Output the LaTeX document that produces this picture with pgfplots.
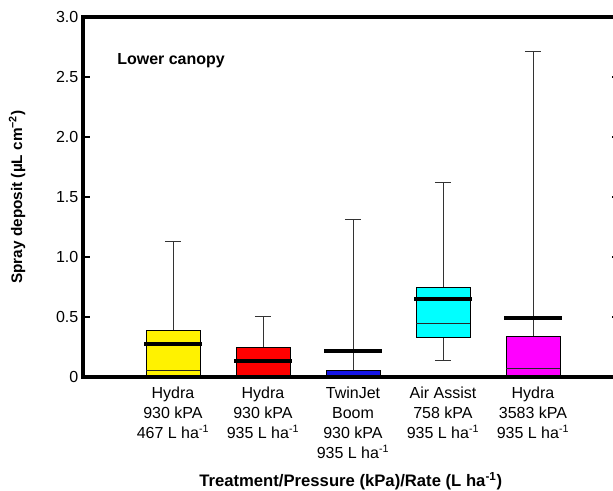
\documentclass[border=0pt]{standalone}
\usepackage{pgfplots}
\pgfplotsset{compat=1.18}
\usepgfplotslibrary{statistics}
\usepackage{fontspec}
\setmainfont{Liberation Sans}
\definecolor{cyanbox}{RGB}{0,255,255}
\definecolor{magbox}{RGB}{255,0,255}
\definecolor{bluebox}{RGB}{20,20,230}
\begin{document}
\begin{tikzpicture}
\path[use as bounding box] (-62.25pt,-85.5pt) rectangle (397.5pt,282.75pt);
\clip (-62.25pt,-85.5pt) rectangle (397.5pt,282.75pt);
\begin{axis}[
  at={(0,0)}, anchor=south west, scale only axis,
  width=401.6pt, height=270pt,
  xmin=0, xmax=5.95, ymin=0, ymax=3,
  axis on top=true,
  axis line style={line width=2.6pt},
  boxplot/draw direction=y,
  boxplot/every whisker/.style={draw=black!80, fill=none, line width=0.6pt},
  boxplot/every median/.style={draw=black!85, fill=none, line width=0.7pt},
  xtick={1,2,3,4,5},
  xticklabels={
    {Hydra\\930 kPA\\467 L ha\textsuperscript{-1}},
    {Hydra\\930 kPA\\935 L ha\textsuperscript{-1}},
    {TwinJet\\Boom\\930 kPA\\935 L ha\textsuperscript{-1}},
    {Air Assist\\758 kPA\\935 L ha\textsuperscript{-1}},
    {Hydra\\3583 kPA\\935 L ha\textsuperscript{-1}}},
  xticklabel style={align=center, font=\fontsize{12}{15}\selectfont, yshift=-4pt},
  x tick style={draw=none},
  ytick={0,0.5,1,1.5,2,2.5,3},
  yticklabels={0,0.5,1.0,1.5,2.0,2.5,3.0},
  yticklabel style={font=\fontsize{12}{14}\selectfont},
  /pgf/number format/assume math mode=true,
  y tick style={line width=2pt, black},
  tick align=inside,
  major tick length=5pt,
  ylabel={\textbf{Spray deposit (µL cm\textsuperscript{−2})}},
  ylabel style={at={(axis description cs:-0.123,0.5)}, anchor=center, font=\fontsize{11.5}{13}\selectfont},
  xlabel={\textbf{Treatment/Pressure (kPa)/Rate (L ha\textsuperscript{-1})}},
  xlabel style={at={(axis description cs:0.5,-0.289)}, anchor=center, font=\fontsize{12.5}{14}\selectfont},
]
\addplot[color=black, boxplot prepared={lower whisker=0, lower quartile=0, median=0.058, upper quartile=0.39, upper whisker=1.13, draw position=1, box extend=0.6, whisker extend=0.18, every box/.style={draw=black, fill=yellow, line width=0.6pt}}, line width=0.6pt] coordinates {};
\addplot[color=black, boxplot prepared={lower whisker=0, lower quartile=0, median=0, upper quartile=0.245, upper whisker=0.505, draw position=2, box extend=0.6, whisker extend=0.18, every box/.style={draw=black, fill=red, line width=0.6pt}}, line width=0.6pt] coordinates {};
\addplot[color=black, boxplot prepared={lower whisker=0, lower quartile=0, median=0, upper quartile=0.058, upper whisker=1.317, draw position=3, box extend=0.6, whisker extend=0.18, every box/.style={draw=black, fill=bluebox, line width=0.6pt}}, line width=0.6pt] coordinates {};
\addplot[color=black, boxplot prepared={lower whisker=0.139, lower quartile=0.328, median=0.447, upper quartile=0.747, upper whisker=1.623, draw position=4, box extend=0.6, whisker extend=0.18, every box/.style={draw=black, fill=cyanbox, line width=0.6pt}}, line width=0.6pt] coordinates {};
\addplot[color=black, boxplot prepared={lower whisker=0, lower quartile=0, median=0.075, upper quartile=0.342, upper whisker=2.71, draw position=5, box extend=0.6, whisker extend=0.18, every box/.style={draw=black, fill=magbox, line width=0.6pt}}, line width=0.6pt] coordinates {};
% means
\addplot[black, line width=3pt] coordinates {(0.68,0.275) (1.32,0.275)};
\addplot[black, line width=3pt] coordinates {(1.68,0.136) (2.32,0.136)};
\addplot[black, line width=3pt] coordinates {(2.68,0.22) (3.32,0.22)};
\addplot[black, line width=3pt] coordinates {(3.68,0.647) (4.32,0.647)};
\addplot[black, line width=3pt] coordinates {(4.68,0.494) (5.32,0.494)};
\node[anchor=west, inner sep=0pt, font=\bfseries\fontsize{12}{14}\selectfont] at (axis cs:0.378,2.64) {Lower canopy};
\end{axis}
\end{tikzpicture}
\end{document}
